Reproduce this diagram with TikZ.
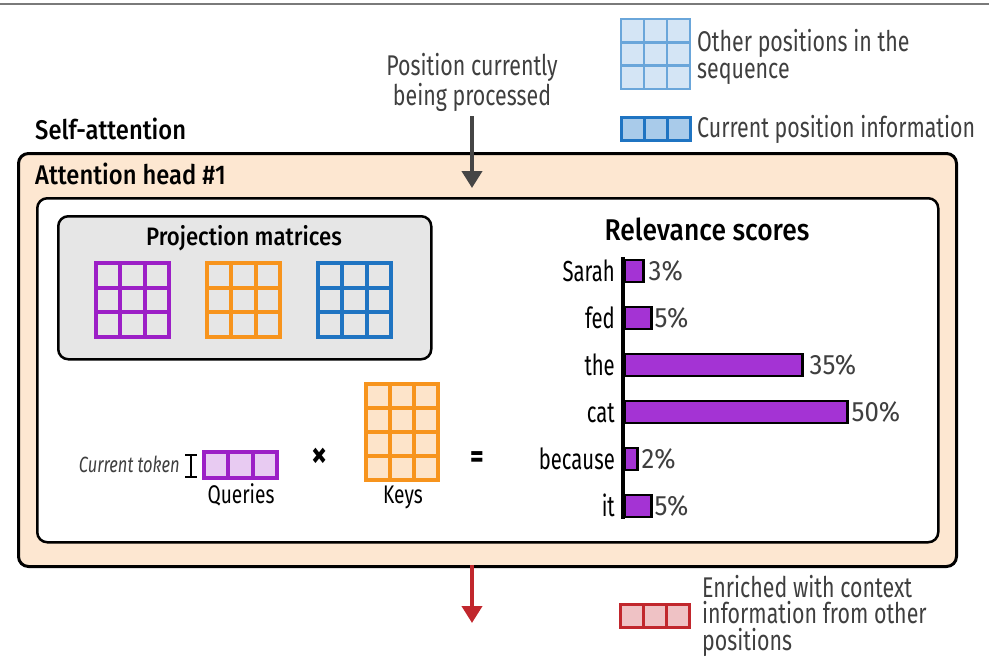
\documentclass[tikz,border=0pt]{standalone}
\usepackage{fontspec}
\setmainfont{Fira Sans}[FakeStretch=0.82]
\newfontfamily\medfont{Fira Sans Medium}[FakeStretch=0.88]
\newfontfamily\notefont{Fira Sans}[FakeStretch=0.75]
\newfontfamily\wordfont{Fira Sans}[FakeStretch=0.7]
\newfontfamily\pctfont{Fira Sans}[FakeStretch=0.92]
\usetikzlibrary{arrows.meta,fit}
\definecolor{topgray}{HTML}{7A7A7A}
\definecolor{peach}{HTML}{FDE7D1}
\definecolor{projgray}{HTML}{E6E6E6}
\definecolor{mpurple}{HTML}{9C1FC6}
\definecolor{morange}{HTML}{F7941D}
\definecolor{mblue}{HTML}{1F74C2}
\definecolor{barpurple}{HTML}{A433D4}
\definecolor{qfill}{HTML}{E8CBF2}
\definecolor{kfill}{HTML}{FDE4CA}
\definecolor{lblue}{HTML}{6AA6DA}
\definecolor{lbluefill}{HTML}{D4E5F5}
\definecolor{cbluefill}{HTML}{A9CBEA}
\definecolor{myred}{HTML}{C1272D}
\definecolor{redfill}{HTML}{EFC2C5}
\definecolor{txtgray}{HTML}{3F3F3F}
\definecolor{arrowgray}{HTML}{454545}
\newcommand{\matgrid}[9]{%
  \fill[#9] (#2,#3) rectangle ({#2+#4*#6},{#3+#5*#7});
  \foreach \cc in {1,...,#4}{\foreach \rr in {1,...,#5}{%
    \draw[#8] ({#2+(\cc-1)*#6},{#3+(\rr-1)*#7}) rectangle ++(#6,#7);}}
  \node[inner sep=0pt, fit={(#2,#3) ({#2+#4*#6},{#3+#5*#7})}] (#1) {};
}
\tikzset{
  ttl/.style={font=\medfont\fontsize{27}{30}\selectfont, inner sep=0pt, anchor=base west},
  lbl/.style={font=\notefont\fontsize{25.5}{28}\selectfont, inner sep=0pt, text=black},
  op/.style={font=\bfseries\fontsize{38}{40}\selectfont, inner sep=0pt, text=black, anchor=center},
  note/.style={font=\notefont\fontsize{28.5}{26.5}\selectfont, inner sep=0pt, text=txtgray, align=left},
  pct/.style={font=\pctfont\fontsize{28}{30}\selectfont, inner sep=0pt, text=txtgray, anchor=west},
  word/.style={font=\wordfont\fontsize{29}{31}\selectfont, inner sep=0pt, text=black, anchor=base east},
  bar/.style={draw=black, line width=2.5pt, fill=barpurple, minimum height=22pt, inner sep=0pt, anchor=west},
  roundbox/.style={draw=black, rounded corners=10pt, anchor=north west, inner sep=0pt},
  bigarrow/.style={line width=4pt, -{Triangle[width=20pt,length=17pt]}},
}
\begin{document}
\begin{tikzpicture}[x=1pt,y=-1pt]
\useasboundingbox (0,0) rectangle (989,670);
% top rule
\coordinate (ruleL) at (0,4);
\coordinate (ruleR) at (989,4);
\draw[line width=2.2pt, topgray] (ruleL) -- (ruleR);

% legend
\matgrid{lgOther}{621}{19}{3}{3}{23}{23.3}{draw=lblue, line width=2.5pt}{lbluefill}
\node[note, anchor=base west] (lgOtherTxt) at (697,78) {Other positions in the\\sequence};
\matgrid{lgCur}{621}{117}{3}{1}{23}{23}{draw=mblue, line width=3pt}{cbluefill}
\node[note, anchor=base west] (lgCurTxt) at (697,137) {Current position information};

% position currently being processed
\node[note, align=center, anchor=base, font=\notefont\fontsize{28.5}{27}\selectfont] (posTxt) at (472,105) {Position currently\\being processed};
\coordinate (gStart) at (472,116);
\coordinate (gTip) at (472,188);

\node[ttl] (selfTxt) at (35,139) {Self-attention};

% outer box
\node[roundbox, line width=3pt, fill=peach, minimum width=938pt, minimum height=413pt] (outer) at (17,152) {};
\node[ttl] (headTxt) at (35,184) {Attention head \#1};
\draw[bigarrow, arrowgray] (gStart) -- (gTip);

% inner box
\node[roundbox, line width=2.5pt, fill=white, minimum width=901pt, minimum height=344pt] (inner) at (36,197) {};

% projection box
\node[roundbox, line width=2.5pt, fill=projgray, minimum width=373pt, minimum height=143pt] (proj) at (57,215) {};
\node[ttl, anchor=base, font=\medfont\fontsize{25.2}{28}\selectfont] (projTxt) at (244,245) {Projection matrices};
\matgrid{pmQ}{96}{263}{3}{3}{24.3}{24.7}{draw=mpurple, line width=4pt}{projgray}
\matgrid{pmK}{207}{263}{3}{3}{24.3}{24.7}{draw=morange, line width=4pt}{projgray}
\matgrid{pmV}{318}{263}{3}{3}{24.3}{24.7}{draw=mblue, line width=4pt}{projgray}

% queries x keys
\node[font=\notefont\itshape\fontsize{22}{24}\selectfont, text=txtgray, inner sep=0pt, anchor=base east] (curTok) at (180,472) {Current token};
\coordinate (ibT) at (191,455);
\coordinate (ibB) at (191,477);
\draw[line width=2.5pt] (ibT) -- (ibB);
\draw[line width=2pt] ([xshift=-6pt]ibT) -- ([xshift=6pt]ibT);
\draw[line width=2pt] ([xshift=-6pt]ibB) -- ([xshift=6pt]ibB);
\matgrid{qry}{204}{452}{3}{1}{24.3}{26}{draw=mpurple, line width=4pt}{qfill}
\node[lbl, anchor=base] (qryTxt) at (241,503) {Queries};
\node[op] (timesTxt) at (320,458) {×};
\matgrid{keys}{366}{384}{3}{4}{24}{24}{draw=morange, line width=4pt}{kfill}
\node[lbl, anchor=base] (keysTxt) at (403,503) {Keys};
\node[op, font=\bfseries\fontsize{32}{34}\selectfont] (eqTxt) at (477,460) {=};

% relevance scores
\node[ttl, anchor=base, font=\medfont\fontsize{30}{33}\selectfont] (relTxt) at (707,240) {Relevance scores};
\node[bar, minimum width=19pt] (bSarah) at (623,271) {};
\node[bar, minimum width=27pt] (bFed) at (623,318) {};
\node[bar, minimum width=178pt] (bThe) at (623,365) {};
\node[bar, minimum width=223pt] (bCat) at (623,412) {};
\node[bar, minimum width=13pt] (bBecause) at (623,459) {};
\node[bar, minimum width=27pt] (bIt) at (623,506) {};
\coordinate (axTop) at (623,257);
\coordinate (axBot) at (623,519);
\draw[line width=4.5pt] (axTop) -- (axBot);
\node[word] (wSarah) at (615,281) {Sarah};
\node[word] (wFed) at (615,328) {fed};
\node[word] (wThe) at (615,375) {the};
\node[word] (wCat) at (615,422) {cat};
\node[word] (wBecause) at (615,469) {because};
\node[word] (wIt) at (615,516) {it};
\node[pct] (pSarah) at ([xshift=4pt]bSarah.east) {3\%};
\node[pct] (pFed) at ([xshift=2pt]bFed.east) {5\%};
\node[pct] (pThe) at ([xshift=6pt]bThe.east) {35\%};
\node[pct] (pCat) at ([xshift=3pt]bCat.east) {50\%};
\node[pct] (pBecause) at ([xshift=3pt]bBecause.east) {2\%};
\node[pct] (pIt) at ([xshift=2pt]bIt.east) {5\%};

% output arrow and legend
\coordinate (rStart) at (472,565);
\coordinate (rTip) at (472,623);
\draw[bigarrow, myred] (rStart) -- (rTip);
\matgrid{lgRed}{620}{604}{3}{1}{23.3}{23}{draw=myred, line width=3pt}{redfill}
\node[note, anchor=base west] (lgRedTxt) at (702,650) {Enriched with context\\information from other\\positions};
\end{tikzpicture}
\end{document}
